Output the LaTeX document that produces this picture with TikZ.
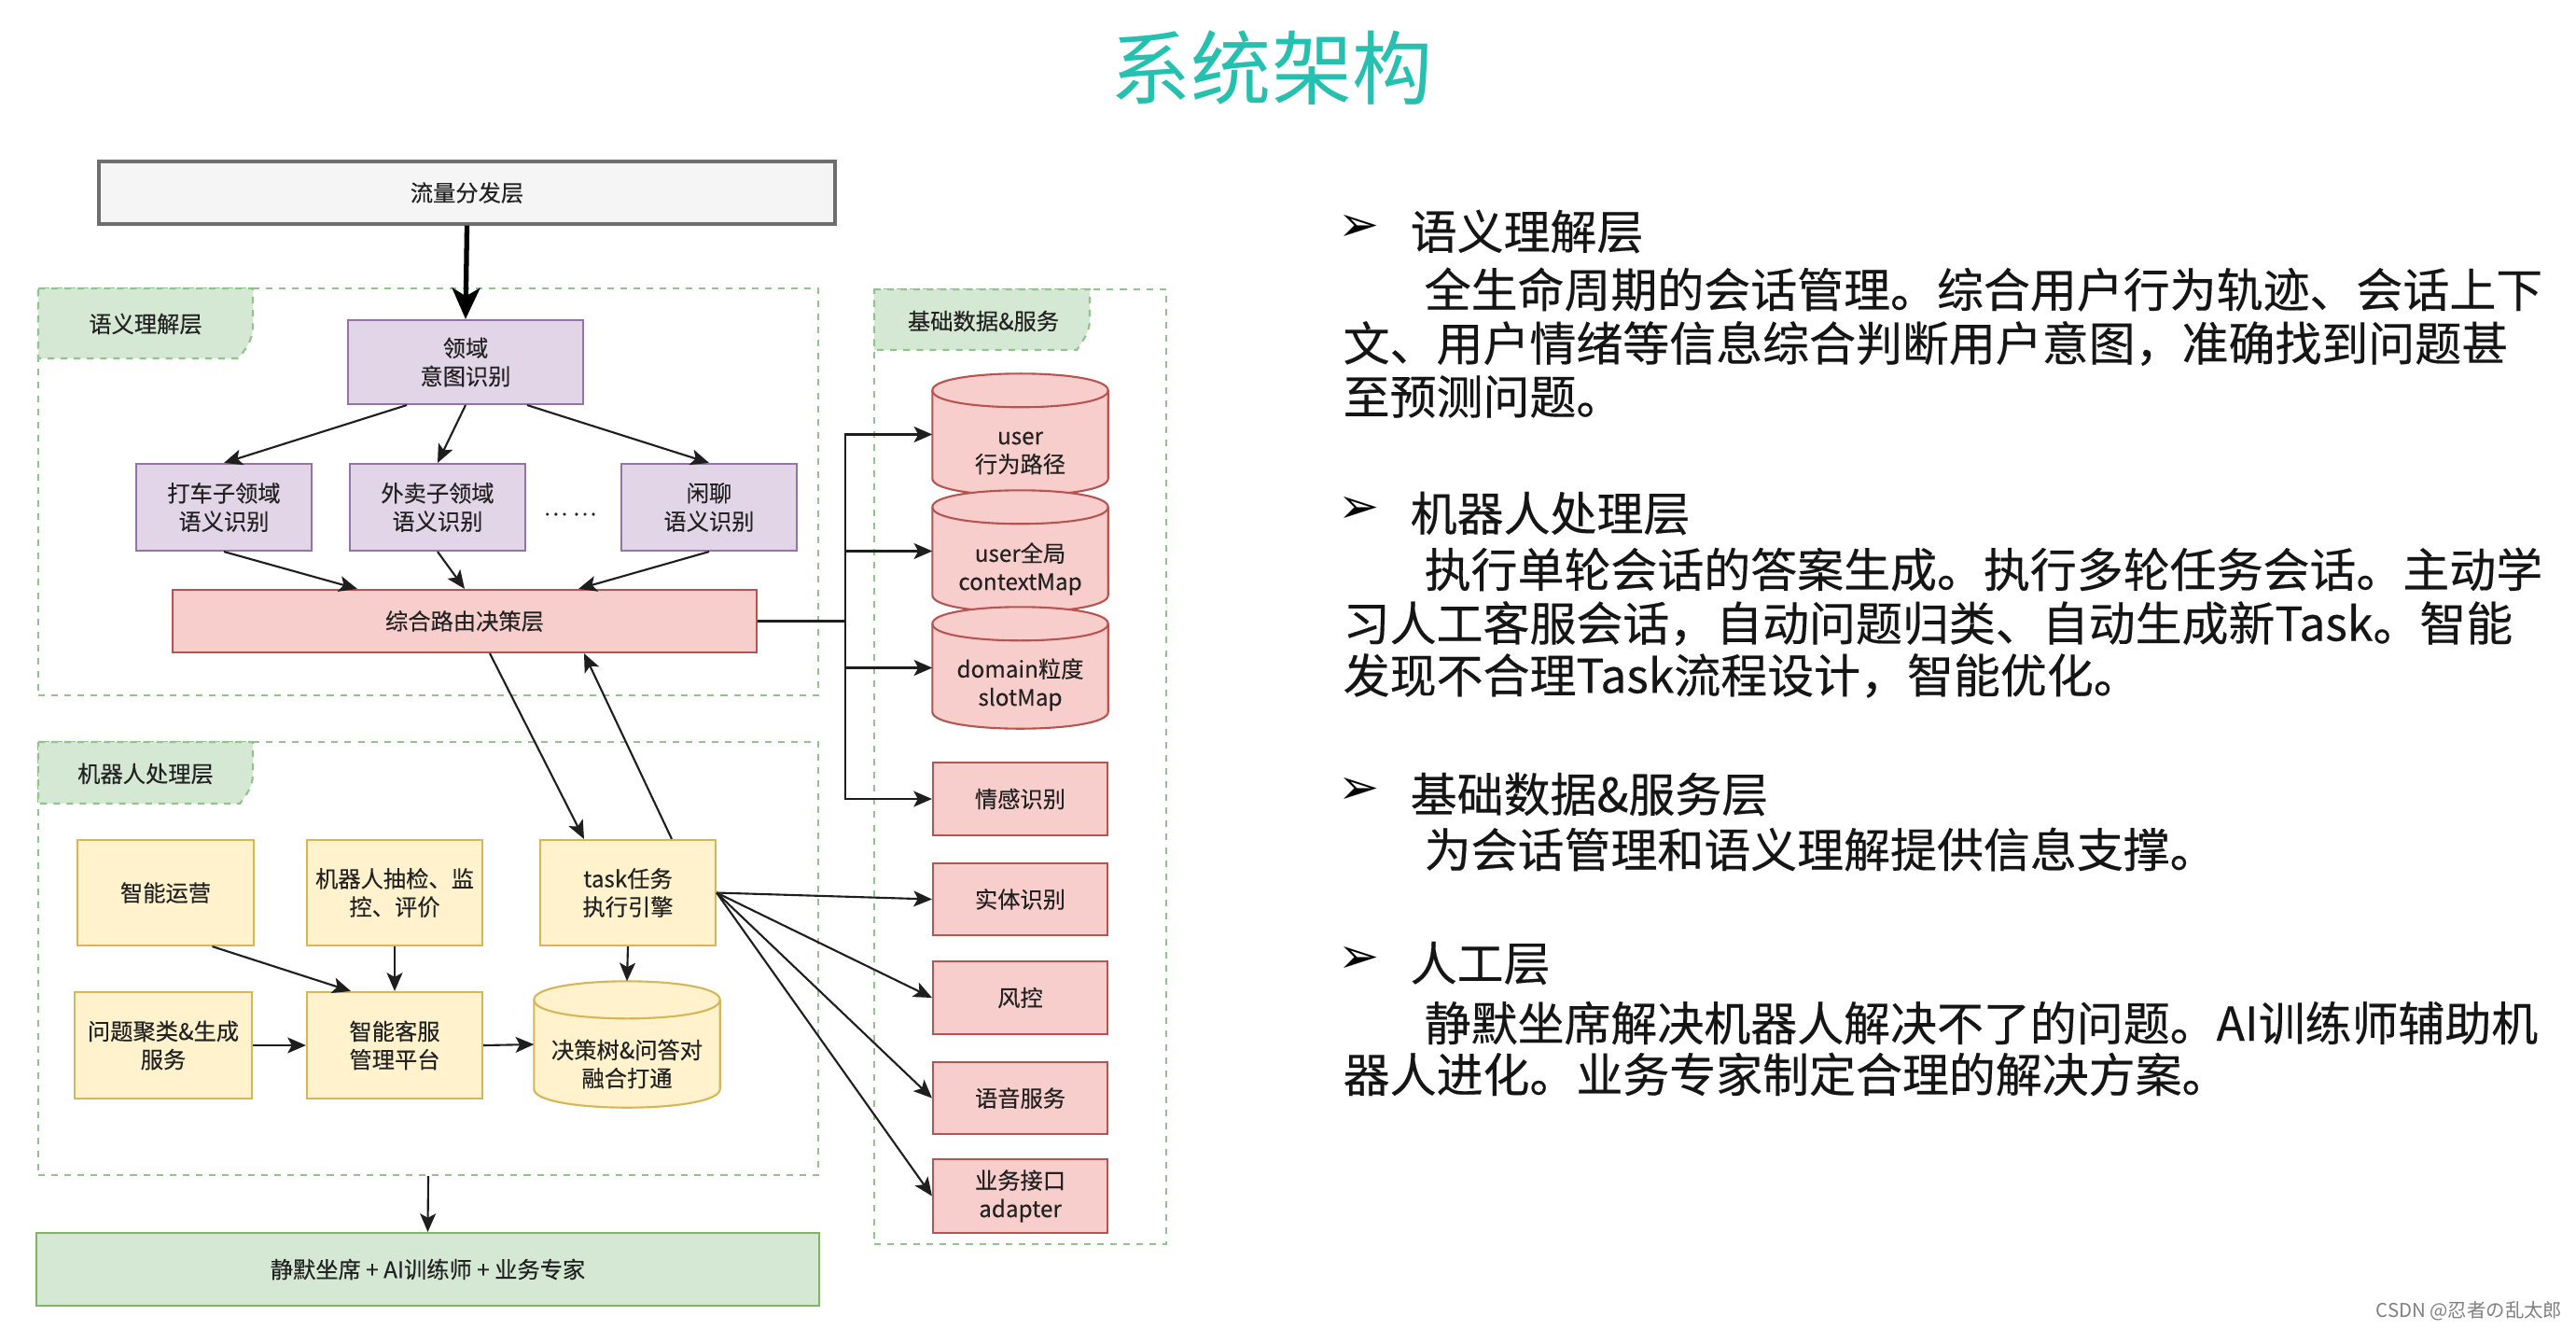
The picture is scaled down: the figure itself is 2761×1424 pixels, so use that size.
\documentclass[tikz,border=0pt]{standalone}
\usepackage{fontspec}
\setmainfont{Noto Sans CJK SC}[FakeBold=0.25]
\newfontfamily\plainfont{Noto Sans CJK SC}
\newfontfamily\bodyfont{Noto Sans CJK SC}[FakeBold=0.35]
\newfontfamily\dejavu{DejaVu Sans}
\usetikzlibrary{arrows.meta,fit,calc}
\definecolor{purpf}{HTML}{E1D5E7}\definecolor{purpd}{HTML}{9673A6}
\definecolor{redf}{HTML}{F8CECC}\definecolor{redd}{HTML}{B85450}
\definecolor{yelf}{HTML}{FFF2CC}\definecolor{yeld}{HTML}{D6B656}
\definecolor{grnf}{HTML}{D5E8D4}\definecolor{grnd}{HTML}{82B366}
\definecolor{grayf}{HTML}{F5F5F5}\definecolor{grayd}{HTML}{6E6E6E}
\definecolor{contc}{HTML}{8FC58A}
\definecolor{txtc}{HTML}{222222}
\definecolor{bodyc}{HTML}{151515}
\definecolor{titlec}{HTML}{26C0B0}
\definecolor{arrc}{HTML}{1E1E1E}
% box node from pixel corners: style, name, x1, y1, x2, y2, text
\newcommand\bnode[7]{%
  \node[#1, minimum width={(#5-#3)*0.01cm}, minimum height={(#6-#4)*0.01cm}]
    (#2) at ({(#3+#5)/2},{(#4+#6)/2}) {#7};}
\newcommand\cylbody[3]{%
  \pgfmathsetmacro\cyk{#2/3}%
  \pgfmathsetmacro\cyf{2*#2+#2/3}%
  \path[#3] ($(#1.north west)+(0,#2)$) -- ($(#1.south west)+(0,-#2)$)
    .. controls ($(#1.south west)+(0,\cyk)$) and ($(#1.south east)+(0,\cyk)$) .. ($(#1.south east)+(0,-#2)$)
    -- ($(#1.north east)+(0,#2)$)
    .. controls ($(#1.north east)+(0,-\cyk)$) and ($(#1.north west)+(0,-\cyk)$) .. ($(#1.north west)+(0,#2)$)
    -- cycle;
  \path[#3,fill=none] ($(#1.north west)+(0,#2)$)
    .. controls ($(#1.north west)+(0,\cyf)$) and ($(#1.north east)+(0,\cyf)$) .. ($(#1.north east)+(0,#2)$);
}
\begin{document}
\begin{tikzpicture}[x=0.01cm,y=-0.01cm,
  dtxt/.style={font=\fontsize{6.9pt}{8.6pt}\selectfont, text=txtc, align=center},
  bx/.style={dtxt, draw, line width=0.6pt, inner sep=0pt},
  pbox/.style={bx, fill=purpf, draw=purpd},
  rbox/.style={bx, fill=redf, draw=redd},
  ybox/.style={bx, fill=yelf, draw=yeld},
  gbox/.style={bx, fill=grnf, draw=grnd},
  graybox/.style={bx, fill=grayf, draw=grayd, line width=0.9pt},
  cylbox/.style={inner sep=0pt, draw=none},
  rcyl/.style={fill=redf, draw=redd, line width=0.6pt},
  ycyl/.style={fill=yelf, draw=yeld, line width=0.6pt},
  cont/.style={draw=contc, dash pattern=on 2pt off 2pt, line width=0.6pt, inner sep=0pt},
  tabs/.style={fill=grnf, draw=contc, dash pattern=on 2pt off 2pt, line width=0.6pt},
  arr/.style={draw=arrc, line width=0.6pt, -{Stealth[length=5.6pt,width=4.8pt,inset=1.3pt]}},
  bigarr/.style={draw=black, line width=1.5pt, -{Stealth[length=9.5pt,width=8.5pt,inset=2.5pt]}},
  rt/.style={anchor=west, inner sep=0pt, font=\bodyfont\fontsize{14.2pt}{16pt}\selectfont, text=bodyc},
  bul/.style={inner sep=0pt, font=\dejavu\bfseries\fontsize{15pt}{17pt}\selectfont, text=black},
  ]
\useasboundingbox (0,0) rectangle (2761,1424);
\fill[white] (0,0) rectangle (2761,1424);

% title
\node[font=\plainfont\fontsize{24.5pt}{28pt}\selectfont, text=titlec, inner sep=0pt] (title) at (1363,73) {系统架构};

% containers
\node[cont, fit={(41,309)(877,745)}] (semc) {};
\node[cont, fit={(41,795)(877,1259)}] (robc) {};
\node[cont, fit={(937,310)(1250,1333)}] (basec) {};

% tabs
\path[tabs] (41,309) -- (271,309) -- (271,350) .. controls (271,365) and (262,376) .. (255,384) -- (41,384) -- cycle;
\node[dtxt] (tab1) at (156,347) {语义理解层};
\path[tabs] (41,795) -- (271,795) -- (271,830) .. controls (271,843) and (263,853) .. (257,861) -- (41,861) -- cycle;
\node[dtxt] (tab2) at (156,829) {机器人处理层};
\path[tabs] (937,310) -- (1168,310) -- (1168,343) .. controls (1168,356) and (1160,366) .. (1154,375) -- (937,375) -- cycle;
\node[dtxt] (tab3) at (1054,344) {基础数据\&服务};

% semantic layer
\bnode{graybox}{ll}{106}{173}{895}{240}{流量分发层}
\bnode{pbox}{ly}{373}{343}{625}{433}{领域\\意图识别}
\bnode{pbox}{dc}{146}{497}{334}{590}{打车子领域\\语义识别}
\bnode{pbox}{wm}{375}{497}{563}{590}{外卖子领域\\语义识别}
\bnode{pbox}{xl}{666}{497}{854}{590}{闲聊\\语义识别}
\node[dtxt] (dots) at (611,551) {… …};
\bnode{rbox}{zh}{185}{632}{811}{699}{综合路由决策层}

% robot layer
\bnode{ybox}{zy}{83}{900}{272}{1013}{智能运营}
\bnode{ybox}{cj}{329}{900}{517}{1013}{机器人抽检、监\\控、评价}
\bnode{ybox}{task}{579}{900}{767}{1013}{task任务\\执行引擎}
\bnode{ybox}{wt}{80}{1063}{270}{1177}{问题聚类\&生成\\服务}
\bnode{ybox}{kf}{329}{1063}{517}{1177}{智能客服\\管理平台}
\node[cylbox, fit={(573,1052)(771,1186)}] (jc) {};
\cylbody{jc}{20}{ycyl}
\node[dtxt] (jct) at ($(jc.center)+(0,21)$) {决策树\&问答对\\融合打通};

% human layer
\bnode{gbox}{jm}{39}{1321}{878}{1399}{静默坐席 + AI训练师 + 业务专家}

% base data & services
\node[cylbox, fit={(1000,401)(1187,530)}] (c1) {};
\cylbody{c1}{18}{rcyl}
\node[dtxt] (c1t) at ($(c1.center)+(0,20)$) {user\\行为路径};
\node[cylbox, fit={(1000,526)(1187,655)}] (c2) {};
\cylbody{c2}{18}{rcyl}
\node[dtxt] (c2t) at ($(c2.center)+(0,19)$) {user全局\\contextMap};
\node[cylbox, fit={(1000,651)(1187,780)}] (c3) {};
\cylbody{c3}{18}{rcyl}
\node[dtxt] (c3t) at ($(c3.center)+(0,18)$) {domain粒度\\slotMap};
\bnode{rbox}{qg}{1000}{817}{1187}{895}{情感识别}
\bnode{rbox}{st}{1000}{925}{1187}{1002}{实体识别}
\bnode{rbox}{fk}{1000}{1030}{1187}{1108}{风控}
\bnode{rbox}{yy}{1000}{1138}{1187}{1215}{语音服务}
\bnode{rbox}{yw}{1000}{1242}{1187}{1321}{业务接口\\adapter}

% connectors
\draw[bigarr] (ll.south) -- (ly.north);
\draw[arr] ($(ly.south)+(-63,0)$) -- (dc.north);
\draw[arr] (ly.south) -- (wm.north);
\draw[arr] ($(ly.south)+(66,0)$) -- (xl.north);
\draw[arr] (dc.south) -- ($(zh.north)+(-115,0)$);
\draw[arr] (wm.south) -- (zh.north);
\draw[arr] (xl.south) -- ($(zh.north)+(122,0)$);
\coordinate (trunk) at (906,665.5);
\draw[arr] (zh.east) -- (trunk) |- (c1.west);
\draw[arr] (zh.east) -- (trunk) |- (c2.west);
\draw[arr] (zh.east) -- (trunk) |- (c3.west);
\draw[arr] (zh.east) -- (trunk) |- (qg.west);
\draw[arr] ($(zh.south)+(27,0)$) -- ($(task.north)+(-47,0)$);
\draw[arr] ($(task.north)+(47,0)$) -- ($(zh.south)+(128,0)$);
\draw[arr] (task.south) -- (jc.north);
\draw[arr] (cj.south) -- (kf.north);
\draw[arr] ($(zy.south)+(50,0)$) -- ($(kf.north)+(-47,0)$);
\draw[arr] (wt.east) -- (kf.west);
\draw[arr] (kf.east) -- (jc.west);
\draw[arr] (task.east) -- (st.west);
\draw[arr] (task.east) -- (fk.west);
\draw[arr] (task.east) -- (yy.west);
\draw[arr] (task.east) -- (yw.west);
\draw[arr] (robc.south) -- (jm.north);

% right-hand text
\node[bul] (b1) at (1457,244) {➢};
\node[rt] (h1) at (1511,248) {语义理解层};
\node[rt] (t11) at (1526,310) {全生命周期的会话管理。综合用户行为轨迹、会话上下};
\node[rt] (t12) at (1439,368) {文、用户情绪等信息综合判断用户意图，准确找到问题甚};
\node[rt] (t13) at (1439,425) {至预测问题。};

\node[bul] (b2) at (1457,546) {➢};
\node[rt] (h2) at (1511,550) {机器人处理层};
\node[rt] (t21) at (1526,610) {执行单轮会话的答案生成。执行多轮任务会话。主动学};
\node[rt] (t22) at (1439,668) {习人工客服会话，自动问题归类、自动生成新Task。智能};
\node[rt] (t23) at (1439,724) {发现不合理Task流程设计，智能优化。};

\node[bul] (b3) at (1457,847) {➢};
\node[rt] (h3) at (1511,851) {基础数据\&服务层};
\node[rt] (t31) at (1526,910) {为会话管理和语义理解提供信息支撑。};

\node[bul] (b4) at (1457,1028) {➢};
\node[rt] (h4) at (1511,1032) {人工层};
\node[rt] (t41) at (1526,1096) {静默坐席解决机器人解决不了的问题。AI训练师辅助机};
\node[rt] (t42) at (1439,1151) {器人进化。业务专家制定合理的解决方案。};

% watermark
\node[anchor=east, inner sep=0pt, font=\plainfont\fontsize{5.8pt}{7pt}\selectfont, text=gray] (wmk) at (2747,1405) {CSDN @忍者の乱太郎};
\end{tikzpicture}
\end{document}
